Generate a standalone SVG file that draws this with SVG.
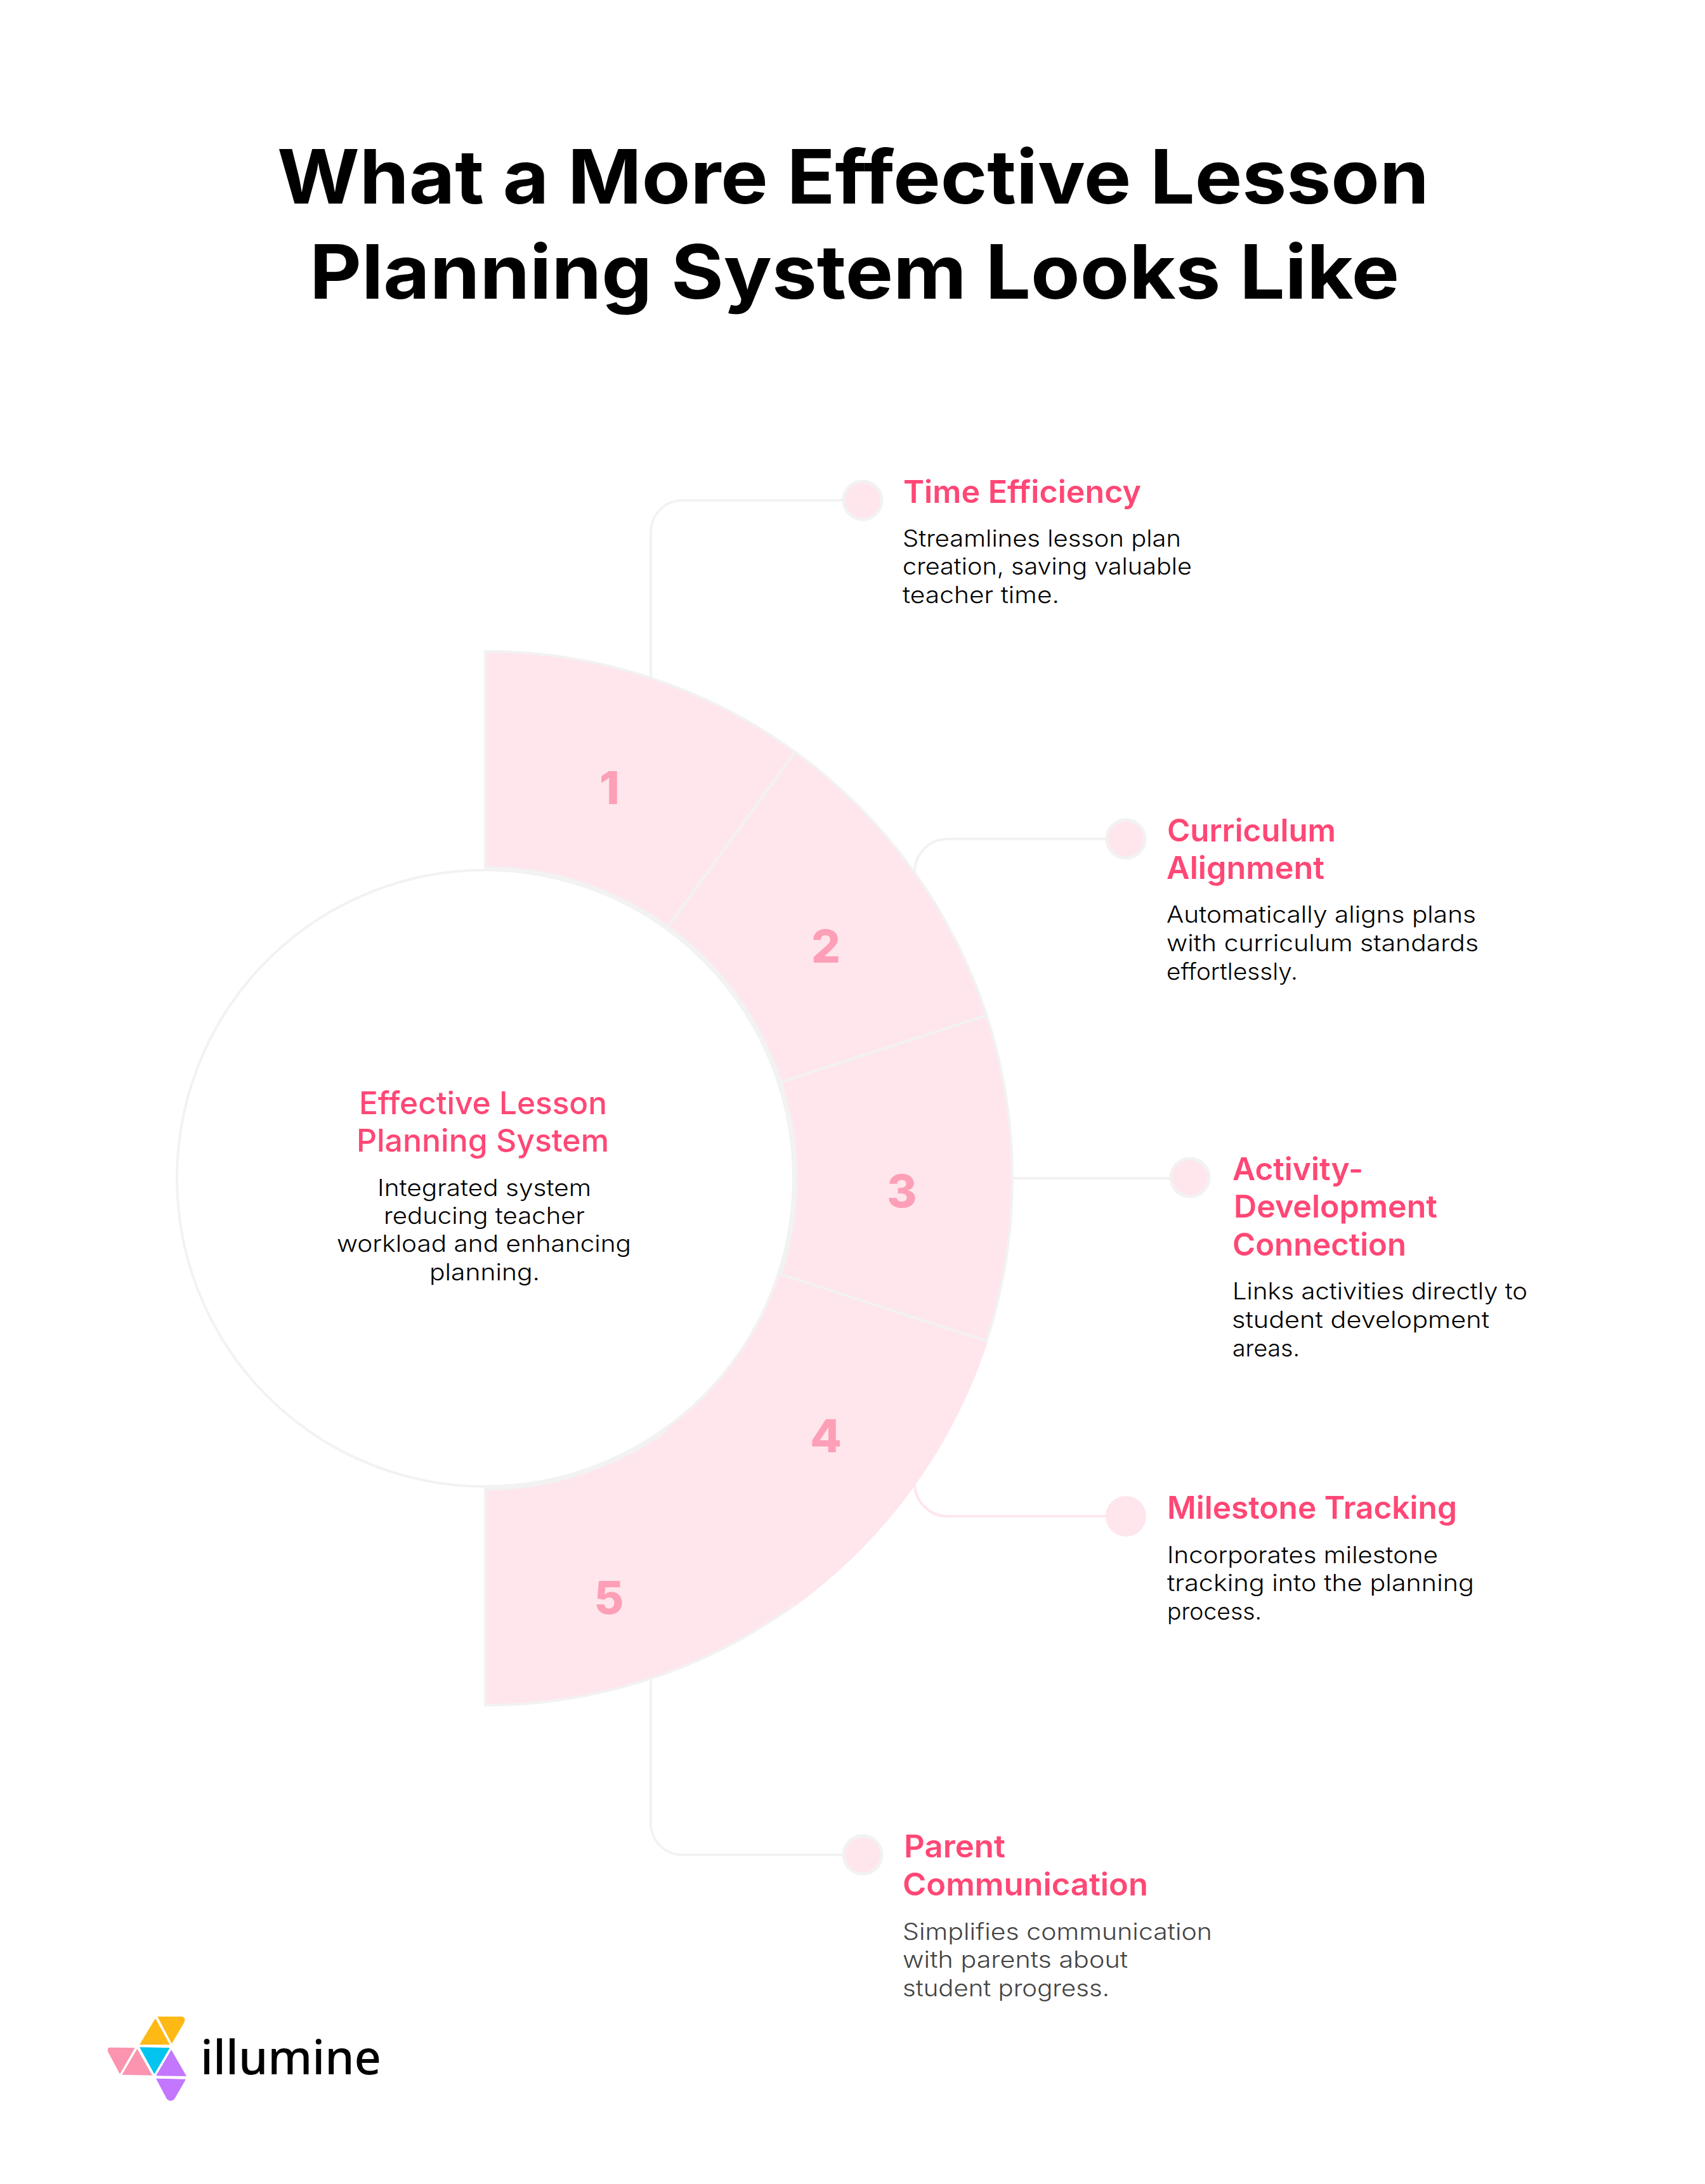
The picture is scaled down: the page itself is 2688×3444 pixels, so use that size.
<svg xmlns="http://www.w3.org/2000/svg" width="2688" height="3444" viewBox="0 0 2688 3444">
<style>
text{font-family:"Inter","Liberation Sans",sans-serif}
.title{font-size:118px;font-weight:700;fill:#000}
.h{font-size:49px;font-weight:600;fill:#ff4775}
.hc{font-size:50px;font-weight:500;fill:#ff4775}
.b{font-size:37px;font-weight:300;fill:#000}
.g{fill:#444}
.n{font-size:72px;font-weight:800;fill:#fd9fb6;text-anchor:middle}
.seg{fill:#fee6ec;stroke:#f2f2f2;stroke-width:4}
.seg4{stroke:#fee6ec}
.con{fill:none;stroke:#f2f2f2;stroke-width:4}
.con4{stroke:#fee6ec}
.dot{fill:#fee6ec;stroke:#f2f2f2;stroke-width:5}
.dot4{stroke:none}
.logo{font-family:"Noto Sans",sans-serif;font-size:74px;font-weight:500;fill:#000}
</style>
<rect width="2688" height="3444" fill="#fff"/>
<g id="title">
<text class="title" x="437" y="321" textLength="1816" lengthAdjust="spacingAndGlyphs">What a More Effective Lesson</text>
<text class="title" x="488" y="471" textLength="1718" lengthAdjust="spacingAndGlyphs">Planning System Looks Like</text>
</g>
<g id="connectors">
<path class="con" d="M1360 789H1076A50 50 0 0 0 1026 839V1075"/>
<path class="con" d="M1775 1323H1494A52 52 0 0 0 1442 1375V1400"/>
<path class="con" d="M1590 1858H1875"/>
<path class="con con4" d="M1775 2391H1494A52 52 0 0 1 1442 2339V2320"/>
<path class="con" d="M1360 2925H1076A50 50 0 0 1 1026 2875V2640"/>
</g>
<g id="center">
<circle cx="765" cy="1858" r="486" fill="#fff" stroke="#f2f2f2" stroke-width="4"/>
<text class="hc" x="566" y="1757" textLength="391" lengthAdjust="spacingAndGlyphs">Effective Lesson</text>
<text class="hc" x="562" y="1816" textLength="398" lengthAdjust="spacingAndGlyphs">Planning System</text>
<text class="b" x="595" y="1886" textLength="337" lengthAdjust="spacingAndGlyphs">Integrated system</text>
<text class="b" x="605" y="1930" textLength="317" lengthAdjust="spacingAndGlyphs">reducing teacher</text>
<text class="b" x="531" y="1974" textLength="464" lengthAdjust="spacingAndGlyphs">workload and enhancing</text>
<text class="b" x="677" y="2019" textLength="174" lengthAdjust="spacingAndGlyphs">planning.</text>
</g>
<g id="segment-5"><path class="seg" d="M765 2689A831 831 0 0 0 1253.5 2530.3L1053 2254.4A490 490 0 0 1 765 2348Z"/><text class="n" x="960" y="2545">5</text></g>
<g id="segment-4"><path class="seg seg4" d="M1253.5 2530.3A831 831 0 0 0 1555.3 2114.8L1231 2009.4A490 490 0 0 1 1053 2254.4Z"/><text class="n" x="1302" y="2290">4</text></g>
<g id="segment-1"><path class="seg" d="M765 1027A831 831 0 0 1 1253.5 1185.7L1053 1461.6A490 490 0 0 0 765 1368Z"/><text class="n" x="961" y="1268">1</text></g>
<g id="segment-2"><path class="seg" d="M1253.5 1185.7A831 831 0 0 1 1555.3 1601.2L1231 1706.6A490 490 0 0 0 1053 1461.6Z"/><text class="n" x="1302" y="1518">2</text></g>
<g id="segment-3"><path class="seg" d="M1555.3 1601.2A831 831 0 0 1 1555.3 2114.8L1231 2009.4A490 490 0 0 0 1231 1706.6Z"/><text class="n" x="1422" y="1904">3</text></g>
<g id="item-1">
<circle class="dot" cx="1360" cy="789" r="30"/>
<text class="h" x="1424" y="793" textLength="375" lengthAdjust="spacingAndGlyphs">Time Efficiency</text>
<text class="b" x="1423" y="862" textLength="439" lengthAdjust="spacingAndGlyphs">Streamlines lesson plan</text>
<text class="b" x="1423" y="906" textLength="456" lengthAdjust="spacingAndGlyphs">creation, saving valuable</text>
<text class="b" x="1423" y="951" textLength="247" lengthAdjust="spacingAndGlyphs">teacher time.</text>
</g>
<g id="item-2">
<circle class="dot" cx="1775" cy="1323" r="30"/>
<text class="h" x="1840" y="1327" textLength="266" lengthAdjust="spacingAndGlyphs">Curriculum</text>
<text class="h" x="1839" y="1386" textLength="249" lengthAdjust="spacingAndGlyphs">Alignment</text>
<text class="b" x="1839" y="1455" textLength="488" lengthAdjust="spacingAndGlyphs">Automatically aligns plans</text>
<text class="b" x="1839" y="1500" textLength="492" lengthAdjust="spacingAndGlyphs">with curriculum standards</text>
<text class="b" x="1839" y="1545" textLength="207" lengthAdjust="spacingAndGlyphs">effortlessly.</text>
</g>
<g id="item-3">
<circle class="dot" cx="1876" cy="1857" r="30"/>
<text class="h" x="1943" y="1861" textLength="206" lengthAdjust="spacingAndGlyphs">Activity-</text>
<text class="h" x="1945" y="1920" textLength="321" lengthAdjust="spacingAndGlyphs">Development</text>
<text class="h" x="1943" y="1980" textLength="274" lengthAdjust="spacingAndGlyphs">Connection</text>
<text class="b" x="1943" y="2049" textLength="465" lengthAdjust="spacingAndGlyphs">Links activities directly to</text>
<text class="b" x="1942" y="2094" textLength="406" lengthAdjust="spacingAndGlyphs">student development</text>
<text class="b" x="1943" y="2139" textLength="106" lengthAdjust="spacingAndGlyphs">areas.</text>
</g>
<g id="item-4">
<circle class="dot dot4" cx="1775" cy="2391" r="32"/>
<text class="h" x="1840" y="2395" textLength="457" lengthAdjust="spacingAndGlyphs">Milestone Tracking</text>
<text class="b" x="1840" y="2465" textLength="427" lengthAdjust="spacingAndGlyphs">Incorporates milestone</text>
<text class="b" x="1840" y="2509" textLength="484" lengthAdjust="spacingAndGlyphs">tracking into the planning</text>
<text class="b" x="1840" y="2554" textLength="149" lengthAdjust="spacingAndGlyphs">process.</text>
</g>
<g id="item-5">
<circle class="dot" cx="1360" cy="2925" r="30"/>
<text class="h" x="1425" y="2929" textLength="160" lengthAdjust="spacingAndGlyphs">Parent</text>
<text class="h" x="1423" y="2989" textLength="387" lengthAdjust="spacingAndGlyphs">Communication</text>
<text class="b g" x="1423" y="3059" textLength="488" lengthAdjust="spacingAndGlyphs">Simplifies communication</text>
<text class="b g" x="1423" y="3103" textLength="355" lengthAdjust="spacingAndGlyphs">with parents about</text>
<text class="b g" x="1423" y="3148" textLength="326" lengthAdjust="spacingAndGlyphs">student progress.</text>
</g>
<g id="logo">
<path fill="#ffb915" d="M245 3182.7L220 3224.3H267.7Z"/>
<path fill="#ffb915" d="M248.3 3180H286Q294 3181 290 3190L270.7 3222.7Z"/>
<path fill="#fb94af" d="M173 3228.7L212.7 3229.3L189 3270.7L170.5 3236Q168 3229 173 3228.7Z"/>
<path fill="#fb94af" d="M216.3 3230.7L192.3 3271.7L240 3272.7Z"/>
<path fill="#02c4ee" d="M220 3228.3L267.7 3229.3L243.3 3270.7Z"/>
<path fill="#c277fe" d="M270 3232.3L246 3273.3L294 3274Z"/>
<path fill="#c277fe" d="M246 3277.7L293 3278.7L275 3310Q269 3316 263 3310Z"/>
<text class="logo" x="316" y="3271" textLength="285" lengthAdjust="spacingAndGlyphs">illumine</text>
</g>
</svg>
